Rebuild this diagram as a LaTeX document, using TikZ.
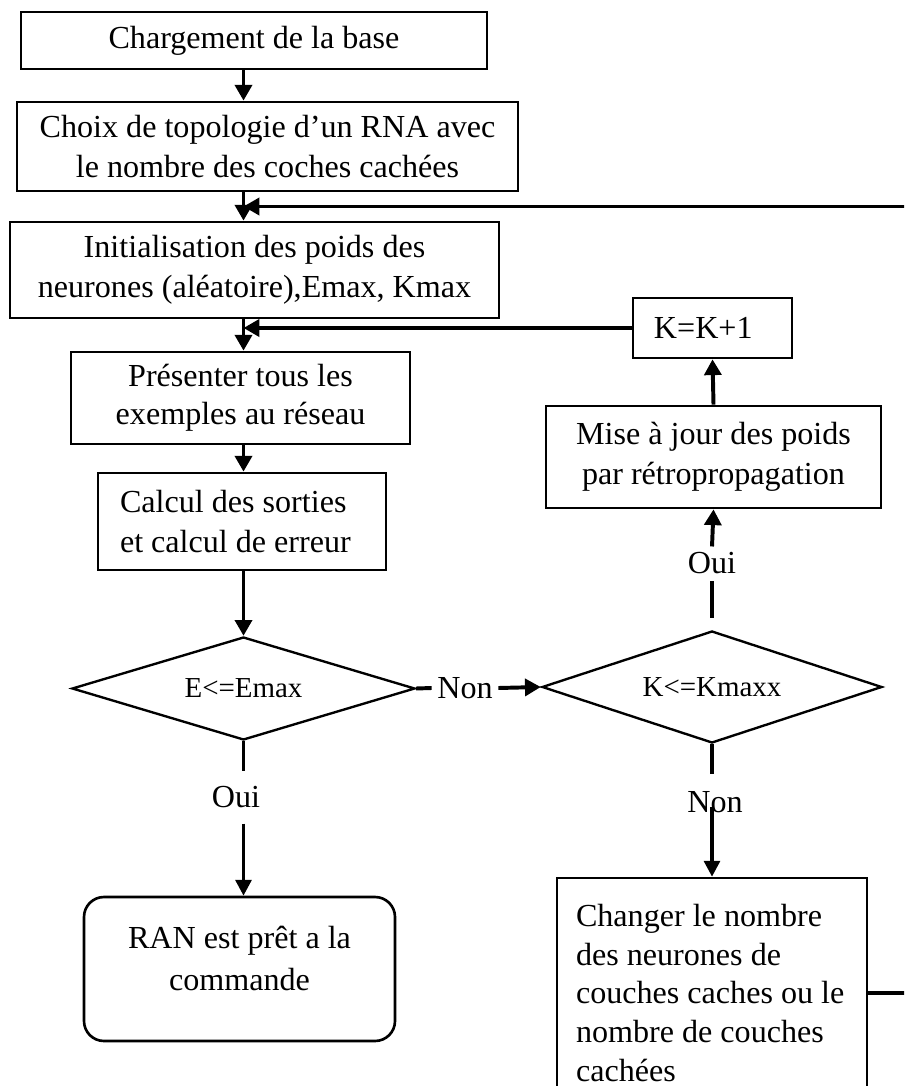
\documentclass[tikz,border=0pt]{standalone}
\usepackage{fontspec}
\setmainfont{Liberation Serif}
\usetikzlibrary{arrows.meta,shapes.geometric,calc}
\newcommand{\px}{0.38pt}
\begin{document}
\begin{tikzpicture}[x=0.38pt,y=-0.38pt,
  box/.style={draw, line width=1pt, rectangle, inner sep=0pt, align=center,
              font=\fontsize{12.2}{15}\selectfont},
  decision/.style={draw, line width=0.9pt, diamond, inner sep=0pt,
              font=\fontsize{11}{13}\selectfont},
  arr/.style={line width=1.5pt, -{Triangle[length=6pt,width=6.4pt]}},
  link/.style={line width=1.5pt},
  lowarr/.style={line width=1.3pt, -{Triangle[length=6pt,width=6pt]}},
  lowlink/.style={line width=1.3pt},
  tag/.style={inner xsep=2pt, inner ysep=0pt, font=\fontsize{12.2}{14}\selectfont}]
\clip (0,0) rectangle (904,1086);
\fill[white] (0,0) rectangle (904,1086);

% main column
\node[box, minimum width=466*\px, minimum height=57*\px] (load) at (254,40.5) {Chargement de la base};
\node[box, minimum width=501*\px, minimum height=89*\px, font=\fontsize{12.2}{15.2}\selectfont] (topo) at (267.5,146.5)
  {Choix de topologie d’un RNA avec\\le nombre des coches cachées};
\node[box, minimum width=489*\px, minimum height=96*\px, font=\fontsize{12.2}{15.2}\selectfont] (init) at (254.5,270)
  {Initialisation des poids des\\neurones (aléatoire),Emax, Kmax};
\node[box, minimum width=339*\px, minimum height=92*\px, font=\fontsize{12.2}{14.6}\selectfont] (show) at (240.5,398)
  {Présenter tous les\\exemples au réseau};
\node[box, minimum width=288*\px, minimum height=97*\px, text width=244*\px, align=flush left,
      font=\fontsize{12.2}{15.2}\selectfont] (calc) at (242,521.5)
  {Calcul des sorties\\et calcul de erreur};
\node[decision, minimum width=343*\px, minimum height=103*\px, aspect=3.3] (errtest) at (243.5,688.5) {E<=Emax};
\node[box, rounded corners=7.6pt, minimum width=311*\px, minimum height=144*\px,
      font=\fontsize{12.2}{16}\selectfont] (ready) at (239.5,969)
  {RAN est prêt a la\\commande\\[-8pt]\mbox{}};

% right column
\node[box, minimum width=159*\px, minimum height=60*\px] (incr) at (712.5,328) {K=K+1\hspace*{7pt}};
\node[box, minimum width=335*\px, minimum height=102*\px, font=\fontsize{12.2}{15.2}\selectfont] (update) at (713.5,457)
  {Mise à jour des poids\\par rétropropagation};
\node[decision, minimum width=340*\px, minimum height=112*\px, aspect=3] (ktest) at (712,687) {K<=Kmaxx};
\node[box, minimum width=310*\px, minimum height=230*\px, text width=272*\px, align=flush left,
      font=\fontsize{12.2}{14.8}\selectfont] (change) at (712,993)
  {Changer le nombre\\des neurones de\\couches caches ou le\\nombre de couches\\cachées};

% branch labels
\node[tag] (no1) at (465,688) {Non};
\node[tag, minimum height=51*\px] (yes1) at (236,797.5) {Oui};
\node[tag, minimum height=33*\px] (yes2) at (712,563.5) {Oui};
\node[tag, minimum height=54*\px] (no2) at (715,802) {Non};

\coordinate (fb) at ($(topo.south)!0.5!(init.north)$);
\coordinate (nolow) at ($(no2.center)+(0,5)$);

% main column arrows
\draw[arr] (load.south -| errtest.north) -- (topo.north -| errtest.north);
\draw[arr] (topo.south -| errtest.north) -- (init.north -| errtest.north);
\draw[arr] (init.south -| errtest.north) -- (show.north -| errtest.north);
\draw[arr] (show.south -| errtest.north) -- (calc.north -| errtest.north);
\draw[arr] (calc.south -| errtest.north) -- (errtest.north);

% first test
\draw[lowlink] (errtest.south) -- (errtest.south |- yes1.north);
\draw[lowarr] (errtest.south |- yes1.south) -- (ready.north -| errtest.south);
\draw[link] (errtest.east) -- (no1.west);
\draw[arr] (no1.east) -- (ktest.west);

% second test
\draw[lowlink] ([yshift=4.5pt]ktest.north) -- (yes2.south);
\draw[arr] (yes2.north) -- (update.south);
\draw[arr] (update.north) -- (incr.south);
\draw[arr] (incr.west) -- (incr.west -| errtest.north);
\draw[lowlink] (ktest.south) -- (ktest.south |- no2.north);
\draw[lowarr] (ktest.south |- nolow) -- (change.north);

% loop back to the weight initialisation
\draw[arr] (change.east) -- ++(60,0) |- (errtest.north |- fb);
\end{tikzpicture}
\end{document}
